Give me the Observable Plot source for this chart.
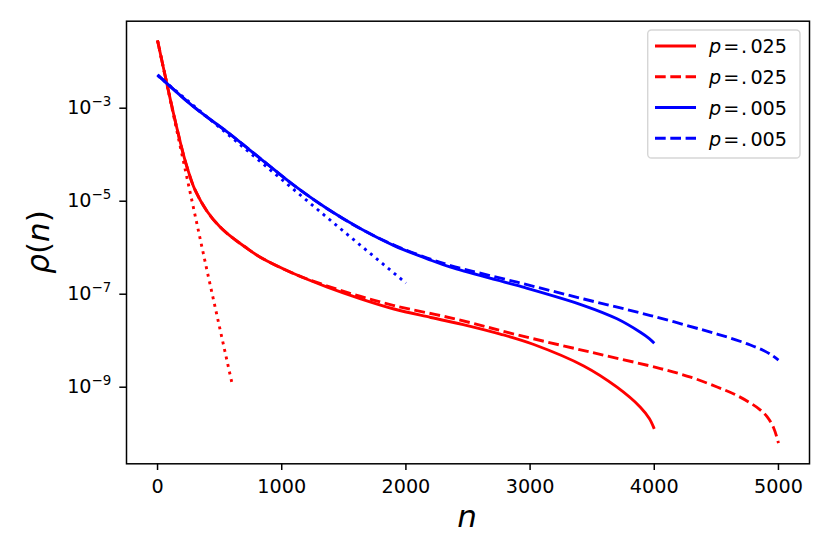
<!DOCTYPE html>
<html><head><meta charset="utf-8">
<script src="https://cdn.jsdelivr.net/npm/d3@7"></script>
<script src="https://cdn.jsdelivr.net/npm/@observablehq/plot@0.6"></script>
<style>
html,body{margin:0;padding:0;background:#fff;}
#wrap{position:relative;width:830px;height:554px;}
</style></head><body>
<div id="wrap"></div>
<script>
// ---- data ----
const nRedSolid   = [0, 80, 134, 200, 241, 300, 400, 500, 600, 700, 831, 1100, 1367, 1636, 1904, 2200, 2494, 2760, 3030, 3432, 3700, 3888, 3960, 4000];
const rhoRedSolid = [2.86e-2, 2.93e-3, 6.63e-4, 1.23e-4, 5.05e-5, 1.79e-5, 6.00e-6, 2.86e-6, 1.66e-6, 1.06e-6, 6.15e-7, 2.75e-7, 1.42e-7, 7.96e-8, 4.81e-8, 3.16e-8, 2.12e-8, 1.39e-8, 8.28e-9, 2.86e-9, 1.00e-9, 3.72e-10, 2.12e-10, 1.27e-10];

const nRedDashed   = [0, 80, 134, 200, 241, 300, 400, 500, 600, 700, 831, 1100, 1367, 1636, 1904, 2400, 2900, 3500, 4050, 4300, 4506, 4650, 4774, 4850, 4908, 4960, 5000];
const rhoRedDashed = [2.86e-2, 2.93e-3, 6.63e-4, 1.23e-4, 5.05e-5, 1.79e-5, 6.00e-6, 2.86e-6, 1.66e-6, 1.06e-6, 6.15e-7, 2.75e-7, 1.50e-7, 8.93e-8, 5.71e-8, 2.93e-8, 1.33e-8, 5.57e-9, 2.52e-9, 1.62e-9, 1.01e-9, 6.97e-10, 4.57e-10, 3.31e-10, 2.34e-10, 1.36e-10, 6.31e-11];

const nRedDotted   = [0, 200, 400, 600];
const rhoRedDotted = [2.86e-2, 9.14e-5, 3.08e-7, 1.20e-9];

const nBlueSolid   = [0, 295, 563, 831, 1099, 1367, 1636, 1904, 2172, 2360, 2896, 3432, 3700, 3888, 3960, 4000];
const rhoBlueSolid = [5.22e-3, 1.05e-3, 3.05e-4, 8.17e-5, 2.18e-5, 6.87e-6, 2.55e-6, 1.11e-6, 5.77e-7, 3.81e-7, 1.54e-7, 5.71e-8, 2.96e-8, 1.52e-8, 1.11e-8, 8.83e-9];

const nBlueDashed   = [0, 295, 563, 831, 1099, 1367, 1636, 1904, 2172, 2360, 2896, 3432, 3970, 4506, 4650, 4774, 4880, 4950, 5000];
const rhoBlueDashed = [5.22e-3, 1.05e-3, 3.05e-4, 8.17e-5, 2.18e-5, 6.87e-6, 2.55e-6, 1.14e-6, 6.01e-7, 4.14e-7, 1.81e-7, 7.89e-8, 3.48e-8, 1.39e-8, 1.06e-8, 8.09e-9, 6.15e-9, 4.81e-9, 3.81e-9];

const nBlueDotted   = [0, 500, 1000, 1500, 2000];
const rhoBlueDotted = [5.05e-3, 3.85e-4, 2.93e-5, 2.23e-6, 1.74e-7];

const xTicks = [0, 1000, 2000, 3000, 4000, 5000];
const yTickExponents = [-3, -5, -7, -9];
const legendValues = [".025", ".025", ".005", ".005"];
const legendColors = ["#ff0000", "#ff0000", "#0000ff", "#0000ff"];
const legendDashed = [false, true, false, true];

// ---- build tables ----
const rows = (ns, rs) => ns.map((n, i) => ({n, rho: rs[i]}));
const redSolid = rows(nRedSolid, rhoRedSolid);
const redDashed = rows(nRedDashed, rhoRedDashed);
const redDotted = rows(nRedDotted, rhoRedDotted);
const blueSolid = rows(nBlueSolid, rhoBlueSolid);
const blueDashed = rows(nBlueDashed, rhoBlueDashed);
const blueDotted = rows(nBlueDotted, rhoBlueDotted);

const LW = 2.88, DASH = "10.7,4.6", DOT = "2.9,4.8";
const RED = "#ff0000", BLUE = "#0000ff";
const lineOpts = (stroke, dash, curve) => ({x: "n", y: "rho", stroke, strokeWidth: LW,
  strokeDasharray: dash || null, strokeLinecap: "butt", strokeLinejoin: "round", curve});

const plot = Plot.plot({
  width: 830, height: 554,
  marginLeft: 126, marginRight: 21, marginTop: 20.7, marginBottom: 90.7,
  style: {fontFamily: "'DejaVu Sans', sans-serif", fontSize: "19.2px", color: "#000", background: "#fff", overflow: "visible"},
  x: {domain: [-250, 5250]},
  y: {type: "log", domain: [Math.pow(10, -10.647), Math.pow(10, -1.129)]},
  marks: [
    Plot.line(redDotted, lineOpts(RED, DOT, "linear")),
    Plot.line(blueDotted, lineOpts(BLUE, DOT, "linear")),
    Plot.line(redSolid, lineOpts(RED, null, "catmull-rom")),
    Plot.line(redDashed, lineOpts(RED, DASH, "catmull-rom")),
    Plot.line(blueSolid, lineOpts(BLUE, null, "catmull-rom")),
    Plot.line(blueDashed, lineOpts(BLUE, DASH, "catmull-rom")),
    Plot.frame({stroke: "#000", strokeWidth: 1.5}),
    Plot.axisX({ticks: xTicks, tickSize: 6.7, tickPadding: 9, strokeWidth: 1.5, label: null, tickFormat: d => String(d)}),
    Plot.axisY({ticks: yTickExponents.map(e => Math.pow(10, e)), tickSize: 6.7, tickPadding: 8.5, strokeWidth: 1.5, label: null,
      tickFormat: d => "10^" + Math.round(Math.log10(d))})
  ]
});
document.getElementById("wrap").appendChild(plot);

const svg = d3.select(plot);
// superscript tick labels
svg.selectAll('g[aria-label="y-axis tick label"] text').each(function() {
  const t = this.textContent;
  const e = t.split("^")[1];
  if (e === undefined) return;
  this.textContent = "";
  const s = d3.select(this);
  s.append("tspan").text("10");
  s.append("tspan").attr("dy", "-8").attr("font-size", "13.4px").text("\u2212" + Math.abs(+e));
});

// axis labels
svg.append("text").attr("x", 467).attr("y", 526.7).attr("text-anchor", "middle")
  .attr("font-size", "31px").attr("font-style", "italic").attr("fill", "#000").text("n");
const yl = svg.append("text").attr("transform", "translate(49.3,242) rotate(-90)")
  .attr("text-anchor", "middle").attr("font-size", "31px").attr("fill", "#000");
yl.append("tspan").attr("font-style", "italic").text("\u03c1");
yl.append("tspan").text("(");
yl.append("tspan").attr("font-style", "italic").text("n");
yl.append("tspan").text(")");

// legend
const lg = svg.append("g").attr("text-anchor", "start").attr("font-size", "19.2px").attr("fill", "#000");
lg.append("rect").attr("x", 647.7).attr("y", 30).attr("width", 152.3).attr("height", 128).attr("rx", 3.8)
  .attr("fill", "#fff").attr("fill-opacity", 0.8).attr("stroke", "#cccccc").attr("stroke-opacity", 0.8).attr("stroke-width", 1.4);
legendValues.forEach((v, i) => {
  const y = 46 + i * 30.77;
  lg.append("line").attr("x1", 655).attr("x2", 696).attr("y1", y).attr("y2", y)
    .attr("stroke", legendColors[i]).attr("stroke-width", LW)
    .attr("stroke-dasharray", legendDashed[i] ? DASH : null).attr("stroke-linecap", "butt");
  const by = y + 7.3;
  lg.append("text").attr("text-anchor", "start").attr("x", 709).attr("y", by).attr("font-style", "italic").text("p");
  lg.append("text").attr("text-anchor", "start").attr("x", 723.3).attr("y", by).text("=");
  lg.append("text").attr("text-anchor", "start").attr("x", 741).attr("y", by).text(".");
  lg.append("text").attr("text-anchor", "start").attr("x", 750.4).attr("y", by).text(v.slice(1));
});
</script>
</body></html>
